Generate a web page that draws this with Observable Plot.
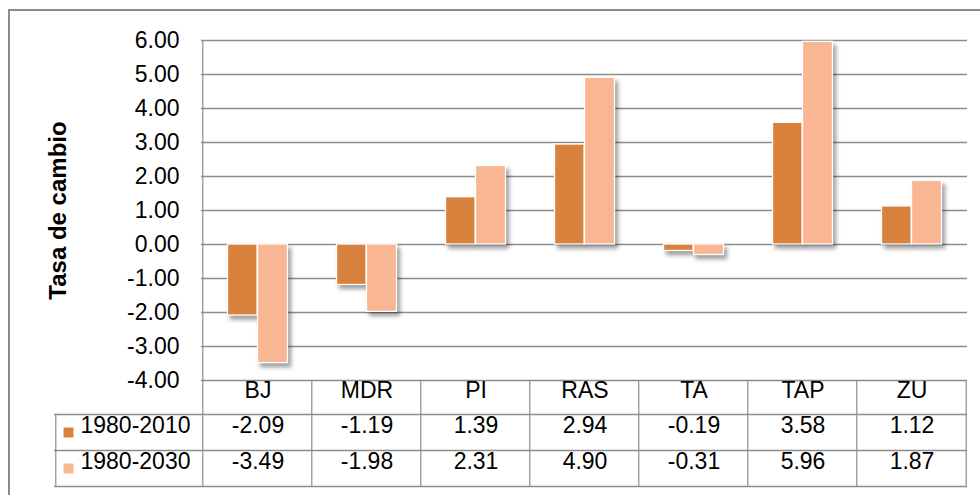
<!DOCTYPE html>
<html><head><meta charset="utf-8">
<script src="https://cdn.jsdelivr.net/npm/d3@7"></script>
<script src="https://cdn.jsdelivr.net/npm/@observablehq/plot@0.6"></script>
<style>
body{margin:0;background:#fff;}
#wrap{position:relative;width:980px;height:495px;overflow:hidden;background:#fff;}
#border{position:absolute;left:8px;top:9px;width:1100px;height:700px;border:2px solid #8a8a8a;box-sizing:border-box;}
#chart{position:absolute;left:0;top:0;}
#chart g[aria-label="bar"]{filter:drop-shadow(3px 4px 2px rgba(0,0,0,0.38));}
</style></head>
<body><div id="wrap"><div id="border"></div><div id="chart"></div></div>
<script>
const categories = ["BJ", "MDR", "PI", "RAS", "TA", "TAP", "ZU"];
const seriesNames = ["1980-2010", "1980-2030"];
const values2010 = [-2.09, -1.19, 1.39, 2.94, -0.19, 3.58, 1.12];
const values2030 = [-3.49, -1.98, 2.31, 4.90, -0.31, 5.96, 1.87];
const yTicks = [-4, -3, -2, -1, 0, 1, 2, 3, 4, 5, 6];
const yTitle = "Tasa de cambio";
const colors = ["#D9823E", "#F8B692"];

const rows = categories.map((c, i) => ({cat: c, a: values2010[i], b: values2030[i]}));
const fmt = v => v.toFixed(2);
const grid = "#8c8c8c";
const W = 980, H = 495, mL = 201, mR = 13, mT = 40, mB = 115;
const bw = (W - mL - mR) / categories.length;
const lw = 1.6;

const plot = Plot.plot({
  width: W, height: H,
  marginLeft: mL, marginRight: mR, marginTop: mT, marginBottom: mB,
  style: {fontFamily: "'Liberation Sans', Arial, sans-serif", fontSize: "23px", color: "#000", background: "transparent", overflow: "visible"},
  x: {type: "band", domain: categories, padding: 0, axis: null},
  y: {domain: [yTicks[0], yTicks[yTicks.length - 1]], ticks: yTicks, tickFormat: fmt, tickSize: 0, tickPadding: 22, label: null},
  marks: [
    Plot.ruleY(yTicks, {stroke: grid, strokeWidth: lw}),
    Plot.barY(rows, {x: "cat", y: "a", fill: colors[0], stroke: "#fff", strokeWidth: 1.3, insetLeft: 24.5, insetRight: bw - 54.5}),
    Plot.barY(rows, {x: "cat", y: "b", fill: colors[1], stroke: "#fff", strokeWidth: 1.3, insetLeft: 54.5, insetRight: 24.5}),
    // table horizontal lines
    Plot.ruleY([yTicks[0]], {stroke: grid, strokeWidth: lw, dy: 34, insetLeft: -147}),
    Plot.ruleY([yTicks[0]], {stroke: grid, strokeWidth: lw, dy: 70, insetLeft: -147}),
    Plot.ruleY([yTicks[0]], {stroke: grid, strokeWidth: lw, dy: 106, insetLeft: -147}),
    // table vertical lines
    Plot.cell(categories.slice(1), {x: d => d, fill: grid, insetLeft: -lw / 2, insetRight: bw - lw / 2, insetTop: 340, insetBottom: -106}),
    Plot.cell([categories[0]], {x: d => d, fill: grid, insetLeft: -lw / 2, insetRight: bw - lw / 2, insetTop: 0, insetBottom: -106}),
    Plot.cell([categories[categories.length - 1]], {x: d => d, fill: grid, insetLeft: bw - lw / 2, insetRight: -lw / 2, insetTop: 340, insetBottom: -106}),
    Plot.cell([categories[0]], {x: d => d, fill: grid, insetLeft: -147 - lw / 2, insetRight: bw + 147 - lw / 2, insetTop: 374, insetBottom: -106}),
    // table texts
    Plot.text(categories, {x: d => d, text: d => d, frameAnchor: "bottom", dy: 17}),
    Plot.text(rows, {x: "cat", text: d => fmt(d.a), frameAnchor: "bottom", dy: 52}),
    Plot.text(rows, {x: "cat", text: d => fmt(d.b), frameAnchor: "bottom", dy: 88}),
    // legend
    Plot.dot([seriesNames[0]], {frameAnchor: "bottom-left", dx: -133, dy: 52, symbol: "square", r: 5.6, fill: colors[0], stroke: "none"}),
    Plot.dot([seriesNames[1]], {frameAnchor: "bottom-left", dx: -133, dy: 88, symbol: "square", r: 5.6, fill: colors[1], stroke: "none"}),
    Plot.text([seriesNames[0]], {text: d => d, frameAnchor: "bottom-left", dx: -121, dy: 52, textAnchor: "start"}),
    Plot.text([seriesNames[1]], {text: d => d, frameAnchor: "bottom-left", dx: -121, dy: 88, textAnchor: "start"}),
    // y title
    Plot.text([yTitle], {text: d => d, frameAnchor: "left", textAnchor: "middle", dx: -143, rotate: -90, fontWeight: "bold", fontSize: 24})
  ]
});
document.getElementById("chart").appendChild(plot);
</script>
</body></html>
